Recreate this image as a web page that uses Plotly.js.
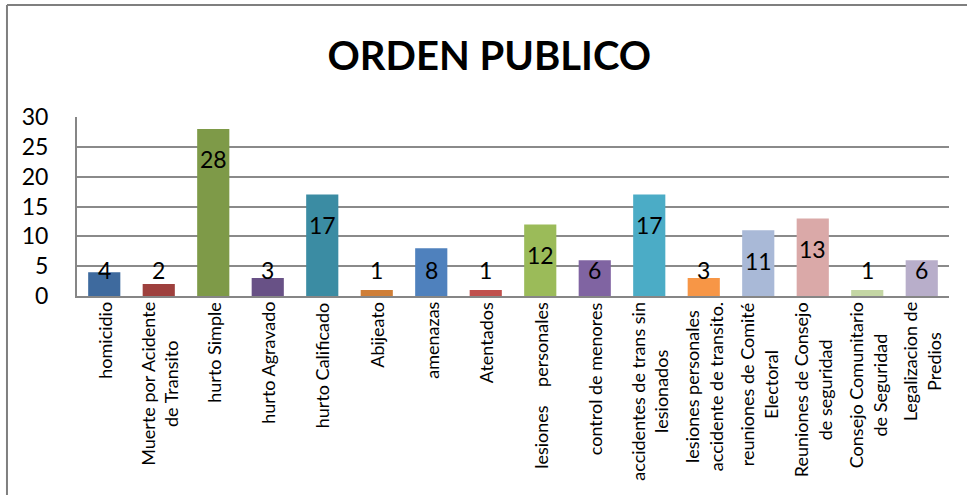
<!DOCTYPE html>
<html>
<head>
<meta charset="utf-8">
<script src="https://cdn.plot.ly/plotly-3.0.1.min.js"></script>
<style>html,body{margin:0;padding:0;background:#fff;}#chart{width:967px;height:495px;}</style>
</head>
<body>
<div id="chart"></div>
<script>
const categories = [
  "homicidio",
  "Muerte por Acidente<br>de Transito",
  "hurto Simple",
  "hurto Agravado",
  "hurto Calificado",
  "Abijeato",
  "amenazas",
  "Atentados",
  "lesiones\u00a0\u00a0\u00a0\u00a0personales",
  "control de menores",
  "accidentes de trans sin<br>lesionados",
  "lesiones personales<br>accidente de transito.",
  "reuniones de Comité<br>Electoral",
  "Reuniones de Consejo<br>de seguridad",
  "Consejo Comunitario<br>de Seguridad",
  "Legalizacion de<br>Predios"
];
const values = [4, 2, 28, 3, 17, 1, 8, 1, 12, 6, 17, 3, 11, 13, 1, 6];
const barColors = [
  "#3E6A9E", "#9E403D", "#7E9A48", "#685186", "#3B8CA3", "#CF7E37",
  "#4F81BD", "#C0504D", "#9BBB59", "#8064A2", "#4BACC6", "#F79646",
  "#A9B9D7", "#DAA9A8", "#C4D6A4", "#B8AECA"
];
const titleText = "ORDEN PUBLICO";
const yTicks = [0, 5, 10, 15, 20, 25, 30];

const FONT = "Lato, 'Open Sans', sans-serif";
const idx = categories.map((c, i) => i);

const trace = {
  type: "bar",
  x: idx,
  y: values,
  marker: {color: barColors, line: {width: 0}},
  hoverinfo: "skip",
  showlegend: false
};

const annotations = [];
values.forEach((v, i) => {
  annotations.push({
    x: i, y: Math.max(v - 5.05, 4.33), xref: "x", yref: "y",
    text: String(v), showarrow: false, yanchor: "middle", xanchor: "center",
    font: {family: FONT, size: 23, color: "#000"}
  });
});
categories.forEach((c, i) => {
  annotations.push({
    x: i, y: 0, xref: "x", yref: "paper", yshift: -4,
    text: c, showarrow: false, textangle: -90, align: "center",
    xanchor: "center", yanchor: "top",
    font: {family: FONT, size: 18, color: "#000"}
  });
});

const layout = {
  width: 967, height: 495,
  margin: {l: 77, r: 18, t: 117, b: 199},
  paper_bgcolor: "#fff", plot_bgcolor: "#fff",
  title: {text: "<b>" + titleText + "</b>", x: 0.506, xref: "container", xanchor: "center",
          y: 0.887, yref: "container", yanchor: "middle",
          font: {family: FONT, size: 40, color: "#000"}},
  bargap: 0.41,
  xaxis: {
    type: "linear", range: [-0.5, 15.5], showticklabels: false, showgrid: false,
    zeroline: false, showline: true, linecolor: "#868686", linewidth: 2, ticks: "",
    fixedrange: true
  },
  yaxis: {
    range: [0, 30], tickvals: yTicks, ticktext: yTicks.map(String),
    showgrid: true, gridcolor: "#8a8a8a", gridwidth: 2,
    zeroline: false, showline: true, linecolor: "#868686", linewidth: 2,
    ticks: "", ticklabelstandoff: 22,
    tickfont: {family: FONT, size: 23, color: "#000"}, fixedrange: true
  },
  annotations: annotations,
  shapes: [
    {type: "line", xref: "paper", yref: "paper", x0: -0.0803, x1: 1.03, y0: 1.6257, y1: 1.6257,
     line: {color: "#7f7f7f", width: 2}},
    {type: "line", xref: "paper", yref: "paper", x0: -0.0803, x1: -0.0803, y0: 1.6257, y1: -1.12,
     line: {color: "#7f7f7f", width: 2}}
  ]
};

Plotly.newPlot("chart", [trace], layout, {displayModeBar: false, staticPlot: true});
</script>
</body>
</html>
